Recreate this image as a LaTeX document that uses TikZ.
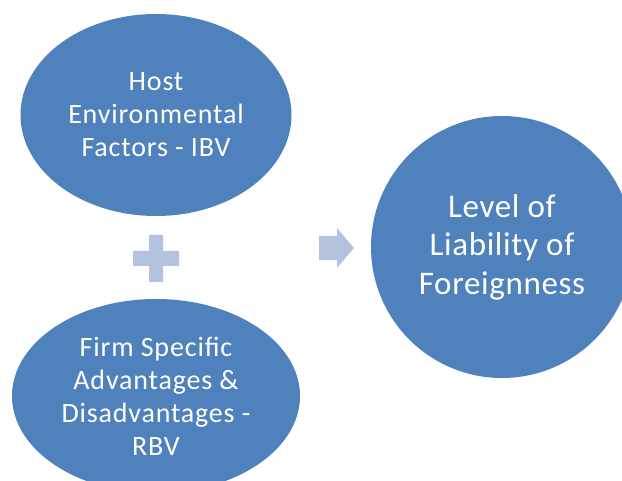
\documentclass[tikz,border=0pt]{standalone}
\usepackage{fontspec}
\setmainfont{Carlito}
\usetikzlibrary{shapes.geometric}
\definecolor{blobblue}{HTML}{4F81BD}
\definecolor{signblue}{HTML}{B3C3DE}
\tikzset{
  blob/.style={ellipse, fill=blobblue, text=white, inner sep=0pt, align=center},
  smalltext/.style={font=\fontsize{28}{33}\selectfont\addfontfeatures{LetterSpace=3}},
  bigtext/.style={font=\fontsize{33}{38.5}\selectfont\addfontfeatures{LetterSpace=2}},
  sign/.style={fill=signblue, draw=none}
}

\begin{document}
\begin{tikzpicture}[x=1pt, y=-1pt]
\useasboundingbox (0, 0) rectangle (622, 481);
\clip (0, 0) rectangle (622, 481);
\node [blob, smalltext, minimum width=271pt, minimum height=202pt] (host) at (156, 115) {Host\\Environmental\\Factors - IBV};
\node [blob, smalltext, minimum width=288pt, minimum height=194pt] (firm) at (156, 396) {Firm Specific\\Advantages \&\\Disadvantages -\\RBV};
\node [blob, bigtext, circle, minimum size=262pt] (level) at (502, 247) {Level of\\Liability of\\Foreignness};
% plus and arrow signs
\fill [sign] (149, 235) -- (163, 235) -- (163, 251) -- (179, 251) -- (179, 266) -- (163, 266)
  -- (163, 282) -- (149, 282) -- (149, 266) -- (133, 266) -- (133, 251) -- (149, 251) -- cycle;
\fill [sign] (319, 236) -- (337, 236) -- (337, 228) -- (354, 248) -- (337, 268) -- (337, 260)
  -- (319, 260) -- cycle;
\end{tikzpicture}
\end{document}
